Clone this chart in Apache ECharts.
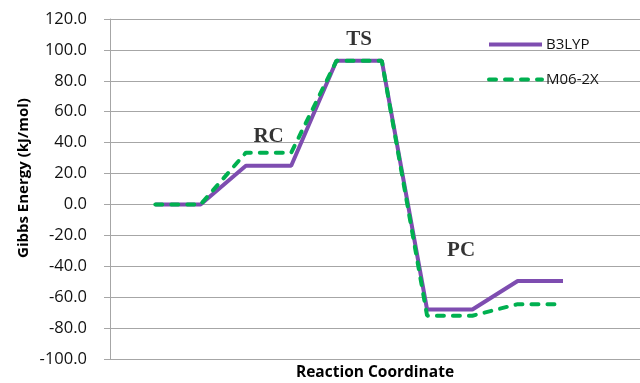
<!DOCTYPE html>
<html>
<head>
<meta charset="utf-8">
<script src="https://cdn.jsdelivr.net/npm/echarts@6/dist/echarts.min.js"></script>
<style>html,body{margin:0;padding:0;background:#fff}#c{width:640px;height:383px}</style>
</head>
<body>
<div id="c"></div>
<script>
var steps = [1, 2, 3, 4, 5, 6, 7, 8, 9, 10];
var b3lyp = [0, 0, 25, 25, 93, 93, -68, -68, -49.5, -49.5];
var m062x = [0, 0, 33.5, 33.5, 93, 93, -72, -72, -64.5, -64.5];
var stateNames = ['RC', 'TS', 'PC'];
var stateX = [3.5, 5.5, 7.75];
var stateY = [44, 106.5, -29.8];
var yTicks = [-100, -80, -60, -40, -20, 0, 20, 40, 60, 80, 100, 120];

var chart = echarts.init(document.getElementById('c'), null, {renderer: 'canvas'});
var sans = '"Open Sans", sans-serif';
chart.setOption({
  animation: false,
  grid: {left: 110, right: 0, top: 19, bottom: 24, containLabel: false, outerBoundsMode: 'none'},
  legend: {
    orient: 'vertical', left: 487, top: 37, padding: 0, itemWidth: 53, itemHeight: 14, itemGap: 20,
    data: ['B3LYP', 'M06-2X'],
    itemStyle: {opacity: 0},
    lineStyle: {width: 4},
    textStyle: {fontFamily: sans, fontSize: 15, color: '#111', padding: [0, 0, 0, -1]}
  },
  xAxis: {
    type: 'value', min: 0, max: 11.7, interval: 12,
    axisLine: {show: false},
    axisTick: {show: true, length: 4, lineStyle: {color: '#a6a6a6', width: 1}},
    axisLabel: {show: false}, splitLine: {show: false},
    name: 'Reaction Coordinate', nameLocation: 'middle', nameGap: 6,
    nameTextStyle: {fontFamily: sans, fontWeight: 'bold', fontSize: 15.5, color: '#000'}
  },
  yAxis: {
    type: 'value', min: yTicks[0], max: yTicks[yTicks.length - 1], interval: 20,
    axisLine: {show: true, lineStyle: {color: '#a6a6a6', width: 1}},
    axisTick: {show: true, length: 6, lineStyle: {color: '#a6a6a6', width: 1}},
    axisLabel: {margin: 23, fontFamily: sans, fontSize: 16.5, color: '#111', formatter: function (v) { return v.toFixed(1); }},
    splitLine: {show: true, lineStyle: {color: '#a6a6a6', width: 1}}
  },
  graphic: [{
    type: 'text', x: 24, y: 178, rotation: Math.PI / 2,
    style: {text: 'Gibbs Energy (kJ/mol)', fontFamily: sans, fontWeight: 'bold', fontSize: 15, fill: '#000', textAlign: 'center', textVerticalAlign: 'middle'}
  }],
  series: [
    {name: 'B3LYP', type: 'line', symbol: 'none', data: steps.map(function (x, i) { return [x, b3lyp[i]]; }),
      lineStyle: {color: '#7e4db0', width: 4}, itemStyle: {color: '#7e4db0'}},
    {name: 'M06-2X', type: 'line', symbol: 'none', data: steps.map(function (x, i) { return [x, m062x[i]]; }),
      lineStyle: {color: '#00b050', width: 4, type: [7, 9], cap: 'round'}, itemStyle: {color: '#00b050'}},
    {name: 'labels', type: 'scatter', symbolSize: 0, silent: true,
      data: stateNames.map(function (n, i) { return {name: n, value: [stateX[i], stateY[i]]}; }),
      label: {show: true, position: 'inside', formatter: '{b}', fontFamily: '"Liberation Serif", serif', fontWeight: 'bold', fontSize: 21, color: '#000'}}
  ]
});
</script>
</body>
</html>
